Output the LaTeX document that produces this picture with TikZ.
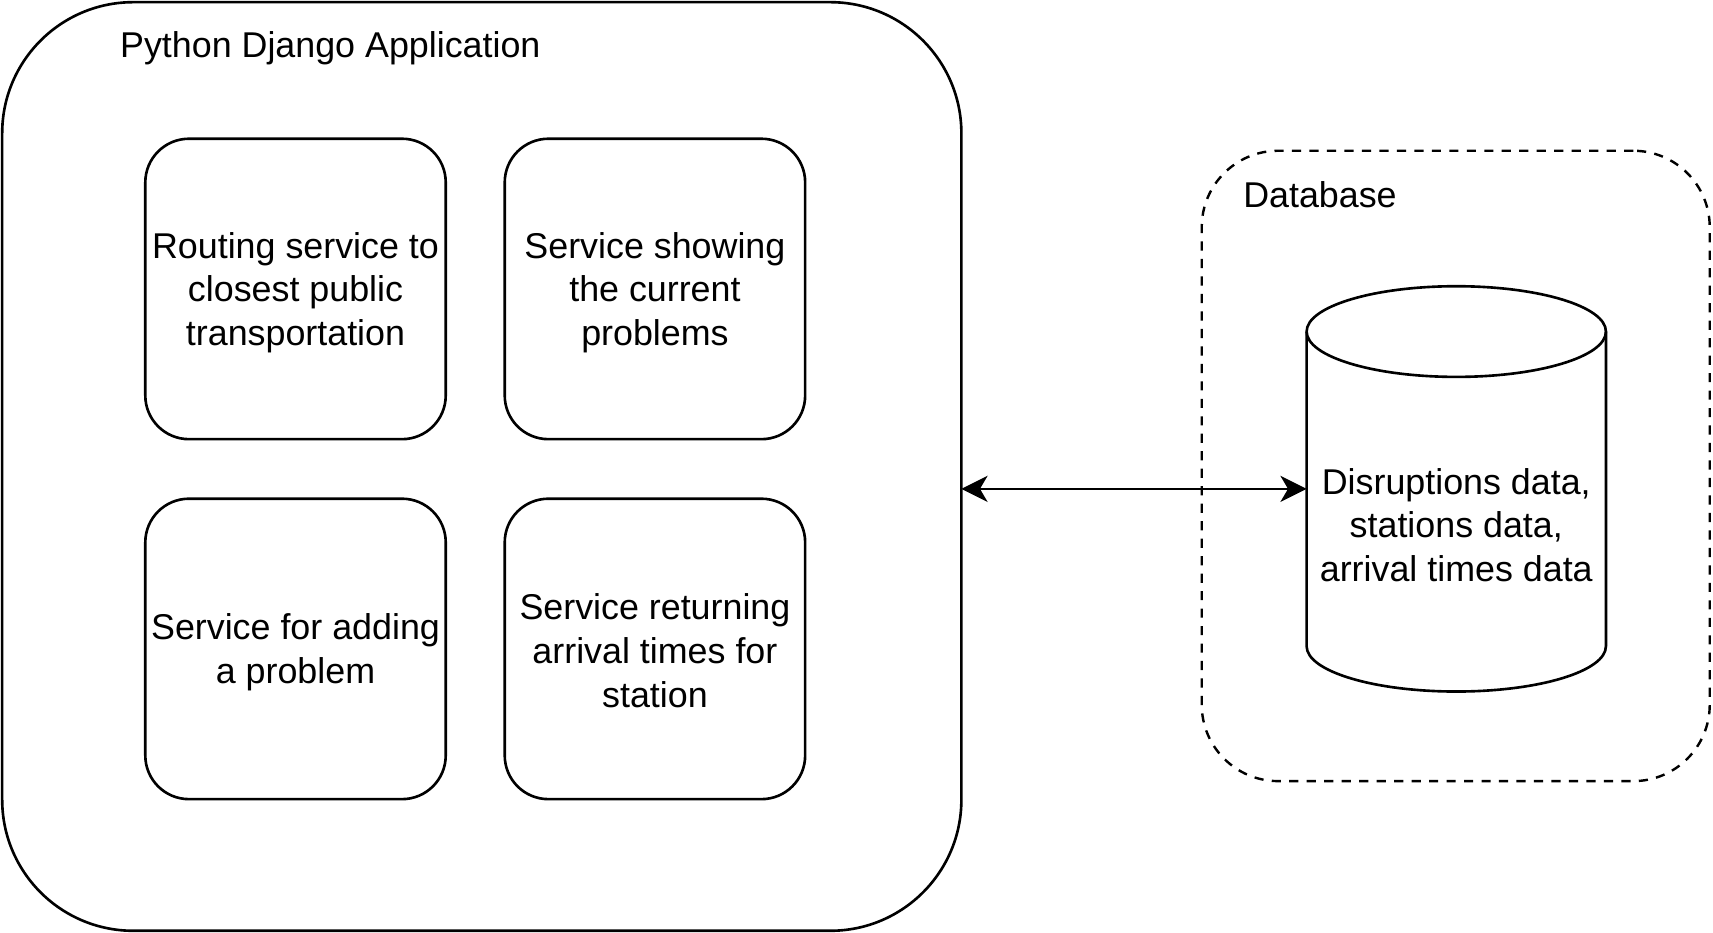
\documentclass[tikz,border=0pt]{standalone}
\usepackage{fontspec}
\setmainfont{Liberation Sans}
\usetikzlibrary{arrows.meta}
\begin{document}
\begin{tikzpicture}[x=0.5pt,y=-0.5pt,
  every node/.style={font=\fontsize{16.4}{20}\selectfont, inner sep=0pt, outer sep=0pt},
  stroke/.style={line width=1.2pt, draw=black},
  appbox/.style={stroke, rounded corners=60pt, minimum width=439pt, minimum height=425pt},
  svcbox/.style={stroke, rounded corners=20pt, minimum width=137.5pt, minimum height=137.5pt},
  svctext/.style={align=center},
  dbbox/.style={line width=1.1pt, draw=black, dash pattern=on 4.2pt off 3.8pt, rounded corners=35pt, minimum width=232.5pt, minimum height=288.5pt},
  label/.style={anchor=base west},
  link/.style={line width=1pt, {Stealth[length=12pt,width=12pt,inset=3.5pt]}-{Stealth[length=12pt,width=12pt,inset=3.5pt]}}
]
\useasboundingbox (0,0) rectangle (1568,854);
\node[appbox] (app) at (441,427) {};
\node[label] (apptitle) at (110,52.5) {Python Django Application};
\node[svcbox] (b1) at (270.5,264.5) {};
\node[svcbox] (b2) at (599.5,264.5) {};
\node[svcbox] (b3) at (270.5,594) {};
\node[svcbox] (b4) at (599.5,594) {};
\node[svctext] (b1t) at ([yshift=-1.6pt]b1.center) {Routing service to\\closest public\\transportation};
\node[svctext] (b2t) at ([yshift=-1.6pt]b2.center) {Service showing\\the current\\problems};
\node[svctext] (b3t) at ([yshift=-1.6pt]b3.center) {Service for adding\\a problem};
\node[svctext] (b4t) at ([yshift=-0.8pt]b4.center) {Service returning\\arrival times for\\station};
\node[dbbox] (dbgroup) at (1332.5,426.5) {};
\node[label] (dbtitle) at (1138,190) {Database};
\node[minimum width=137pt, minimum height=185.5pt] (db) at (1333,447.5) {};
\draw[stroke] ([yshift=-20.75pt]db.north west) -- ([yshift=20.75pt]db.south west)
  arc[start angle=180, end angle=360, x radius=68.5pt, y radius=20.75pt]
  -- ([yshift=-20.75pt]db.north east)
  arc[start angle=0, end angle=180, x radius=68.5pt, y radius=20.75pt] -- cycle;
\draw[stroke] ([yshift=-20.75pt]db.north west)
  arc[start angle=180, end angle=360, x radius=68.5pt, y radius=20.75pt];
\node[svctext] (dbtext) at (1333,480.5) {Disruptions data,\\stations data,\\arrival times data};
\draw[link] (app.east |- db.west) -- (db.west);
\end{tikzpicture}
\end{document}
